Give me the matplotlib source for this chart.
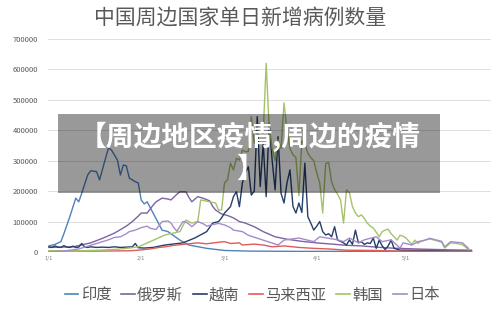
import matplotlib
matplotlib.use("Agg")
import matplotlib.pyplot as plt
from matplotlib.lines import Line2D
from matplotlib.patches import Rectangle

plt.rcParams['font.family'] = ['Noto Sans CJK SC', 'DejaVu Sans']

# day index counted from 1/1, values in thousands of new cases
india_days = [0, 2, 4, 5, 7, 9, 10, 11, 13, 14, 16, 17, 19, 20, 21, 23, 24, 25, 26, 27,
              29, 30, 31, 32, 33, 35, 38, 40, 44, 47, 53, 59, 67, 84, 117, 142]
india_vals = [20, 25, 34, 60, 116, 177, 165, 193, 253, 267, 264, 237, 308, 342, 335, 302, 253, 286, 283, 243,
              231, 227, 171, 158, 165, 128, 72, 67, 39, 23, 12, 5, 3, 2, 2.5, 2]

russia_days = [0, 8, 14, 18, 22, 26, 28, 30, 31, 33, 35, 36, 38, 40, 41, 43, 44, 46, 47, 48,
               50, 52, 54, 55, 56, 58, 60, 62, 64, 66, 69, 72, 76, 80, 85, 90, 95, 100, 105,
               110, 115, 120, 127, 135, 142]
russia_vals = [15, 17, 30, 45, 62, 85, 100, 118, 128, 128, 154, 165, 177, 174, 171, 190, 198, 198, 180, 165,
               182, 176, 168, 150, 138, 125, 120, 112, 100, 95, 83, 67, 50, 42, 35, 30, 26, 22, 20,
               16, 13, 11, 9, 7, 6]

vietnam_days = [0, 1, 2, 3, 4, 5, 6, 7, 8, 9, 10, 11, 12, 13, 14, 16, 18, 20, 22, 24, 26, 28, 29, 30,
                32, 35, 39, 45, 49, 53, 55, 57, 58, 59, 61, 62, 63, 64, 65, 66, 67, 68, 69, 70,
                71, 72, 73, 74, 75, 76, 77, 78, 79, 80, 81, 82, 83, 84, 85, 86, 87, 88, 89, 90,
                91, 92, 93, 94, 95, 96, 97, 98, 99, 100, 101, 102, 103, 104, 105, 106, 107, 108,
                109, 110, 111, 112, 113, 114, 115, 116, 118, 125, 135, 142]
vietnam_vals = [17, 15, 20, 16, 15, 21, 16, 15, 19, 15, 16, 28, 16, 15, 17, 15, 16, 15, 17, 15, 16, 17, 28, 14,
                13, 15, 23, 30, 46, 67, 95, 100, 112, 128, 149, 182, 198, 149, 227, 260, 280, 187, 200, 445,
                215, 358, 182, 423, 302, 204, 379, 193, 161, 227, 270, 150, 128, 161, 130, 292, 116, 95, 72, 85,
                100, 67, 56, 60, 50, 83, 39, 35, 30, 23, 40, 25, 72, 30, 34, 25, 30, 28,
                46, 12, 39, 20, 8, 20, 39, 12, 6, 5, 3, 2]

malaysia_days = [0, 17, 27, 30, 34, 37, 39, 42, 45, 47, 50, 53, 57, 59, 61, 64, 65, 69, 72, 75,
                 79, 84, 89, 94, 100, 110, 117, 130, 142]
malaysia_vals = [3, 3, 4, 6, 10, 15, 17, 22, 25, 27, 30, 27, 32, 34, 28, 30, 23, 26, 23, 17,
                 20, 15, 12, 10, 6, 5, 3, 2, 2]

korea_days = [0, 10, 17, 23, 27, 30, 34, 39, 44, 46, 48, 50, 51, 54, 56, 57, 58, 59, 60, 61,
              62, 63, 64, 65, 66, 67, 68, 69, 70, 71, 72, 73, 74, 75, 76, 77, 78, 79, 80, 81,
              82, 83, 84, 85, 86, 87, 88, 89, 90, 91, 92, 93, 94, 95, 96, 97, 98, 99, 100, 101,
              102, 103, 104, 105, 106, 107, 108, 109, 110, 111, 112, 113, 114, 115, 116, 117,
              118, 119, 120, 121, 122, 123, 124, 125, 128, 130, 132, 133, 135, 137, 139, 141]
korea_vals = [4, 4, 6, 9, 13, 17, 34, 56, 67, 105, 95, 100, 171, 165, 161, 138, 138, 227, 237, 292,
              270, 308, 302, 335, 330, 330, 445, 358, 390, 423, 390, 620, 410, 340, 300, 370, 340, 490, 400, 340,
              320, 310, 185, 365, 355, 325, 310, 300, 260, 227, 128, 290, 295, 230, 205, 190, 171, 95, 204, 195,
              149, 128, 116, 122, 110, 95, 85, 79, 65, 50, 67, 72, 75, 60, 50, 39,
              55, 52, 46, 35, 25, 39, 28, 35, 43, 38, 32, 13, 30, 28, 24, 8]

japan_days = [0, 5, 10, 15, 18, 20, 22, 24, 26, 27, 29, 31, 33, 34, 36, 38, 40, 41, 42, 43,
              45, 46, 47, 48, 50, 52, 53, 55, 57, 59, 61, 62, 65, 67, 72, 77, 79, 84, 89, 91,
              94, 97, 99, 101, 104, 106, 110, 112, 115, 118, 119, 122, 124, 126, 128, 130, 132,
              133, 135, 137, 139, 141]
japan_vals = [1, 3, 10, 25, 34, 40, 48, 50, 60, 67, 72, 80, 85, 78, 74, 100, 102, 95, 80, 68,
              100, 98, 92, 83, 100, 92, 85, 90, 94, 89, 80, 72, 67, 55, 39, 23, 39, 46, 34, 50,
              45, 40, 34, 46, 30, 40, 50, 34, 40, 13, 30, 23, 34, 38, 45, 40, 35,
              17, 34, 32, 30, 12]

names = ['印度', '俄罗斯', '越南', '马来西亚', '韩国', '日本']
colors = ['#4F81BD', '#7E62A6', '#253F6A', '#DD5C58', '#A5C26A', '#A48CCB']
series = [(india_days, india_vals), (russia_days, russia_vals), (vietnam_days, vietnam_vals),
          (malaysia_days, malaysia_vals), (korea_days, korea_vals), (japan_days, japan_vals)]

tick_days = [0, 31, 59, 90, 120]
tick_labels = ['1/1', '2/1', '3/1', '4/1', '5/1']

fig = plt.figure(figsize=(5, 3.09), dpi=100)
ax = fig.add_axes([48 / 500, 1 - 252 / 309, 443 / 500, 213 / 309])

for (d, v), c in zip(series, colors):
    ax.plot(d, [x * 1000 for x in v], color=c, lw=1.0, solid_joinstyle='round')

ax.set_ylim(0, 700000)
ax.set_xlim(-1 / 2.975, 442 / 2.975)
ax.set_yticks(range(0, 700001, 100000))
ax.set_yticklabels([str(t) for t in range(0, 700001, 100000)])
ax.set_xticks(tick_days)
ax.set_xticklabels(tick_labels)
ax.tick_params(axis='y', length=0, pad=7, labelsize=5.5, labelcolor='#595959')
ax.tick_params(axis='x', length=0, pad=3, labelsize=4, labelcolor='#7f7f7f')
ax.yaxis.grid(True, color='#d9d9d9', lw=0.6)
ax.set_axisbelow(True)
for s in ax.spines.values():
    s.set_visible(False)

fig.text(240 / 500, 1 - 17.5 / 309, '中国周边国家单日新增病例数量', ha='center', va='center',
         fontsize=15, color='#595959')

handles = [Line2D([], [], color=c, lw=1.2) for c in colors]
fig.legend(handles, names, loc='center', bbox_to_anchor=(252 / 500, 1 - 295 / 309), ncol=6,
           frameon=False, fontsize=11, handlelength=0.9, handletextpad=0.15,
           columnspacing=0.65, labelcolor='#595959')

# grey banner laid over the chart
fig.add_artist(Rectangle((58 / 500, 1 - 193 / 309), 382 / 500, 79 / 309,
                         transform=fig.transFigure, facecolor='black', alpha=0.4, lw=0))
fig.text(0.5, 1 - 137 / 309, '【周边地区疫情,周边的疫情', ha='center', va='center',
         fontsize=20, fontweight='bold', color='white')
fig.text(0.5, 1 - 170 / 309, '】', ha='center', va='center',
         fontsize=20, fontweight='bold', color='white')

fig.savefig('out.png', dpi=100)
